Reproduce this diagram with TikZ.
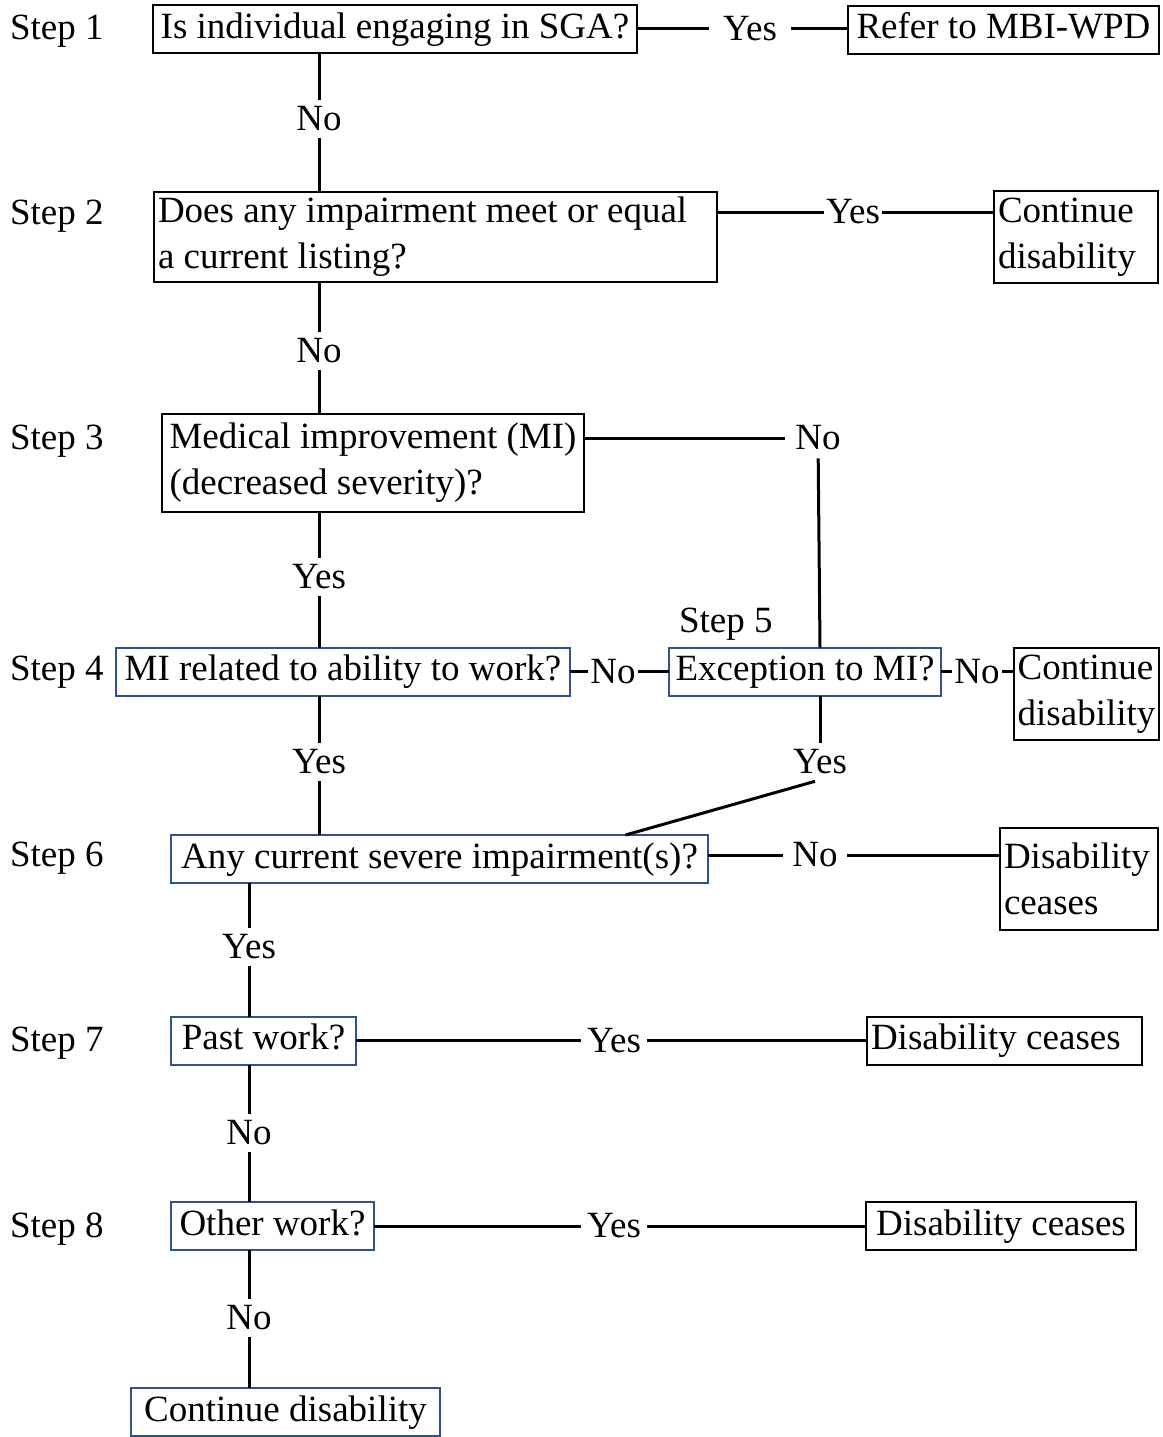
\documentclass[tikz,border=0pt]{standalone}
\usepackage{fontspec}
\setmainfont{Liberation Serif}
\usetikzlibrary{%
    positioning
}
\definecolor{boxblue}{RGB}{47,82,143}
\tikzset{
    every node/.style = {
        font=\fontsize{37}{46}\selectfont,
        outer sep=0pt,
    },
    blackbox/.style = {
        rectangle, draw=black, line width=2pt,
        inner xsep=4pt, align=flush left,
    },
    bluebox/.style = {
        blackbox, draw=boxblue,
    },
    oneline/.style = {
        inner ysep=5pt, text height=28pt, text depth=10pt,
    },
    steplabel/.style = {
        inner sep=0pt, anchor=west,
    },
    hlabel/.style = {inner xsep=2pt, inner ysep=0pt},
    vlabel/.style = {inner xsep=0pt, inner ysep=7pt},
    link/.style = {line width=3pt},
}

\begin{document}
\begin{tikzpicture}[x=1pt, y=-1pt]
    \useasboundingbox (0,0) rectangle (1162,1437);

    % step numbers down the left side
    \node[steplabel] (s1) at (10,31) {Step 1};
    \node[steplabel] (s2) at (10,216) {Step 2};
    \node[steplabel] (s3) at (10,441) {Step 3};
    \node[steplabel] (s4) at (10,672) {Step 4};
    \node[steplabel] (s6) at (10,858) {Step 6};
    \node[steplabel] (s7) at (10,1043) {Step 7};
    \node[steplabel] (s8) at (10,1229) {Step 8};

    % questions
    \node[
        blackbox, oneline,
        minimum width = 484pt
    ] (q1) at (395,29) {Is individual engaging in SGA?};
    \node[
        blackbox,
        text width = 555pt,
        minimum height = 90pt
    ] (q2) at (435.5,237) {Does any impairment meet or equal\\a current listing?};
    \node[
        blackbox,
        minimum width = 422pt,
        minimum height = 98pt
    ] (q3) at (373,463) {Medical improvement (MI)\\(decreased severity)?};
    \node[
        bluebox, oneline,
        minimum width = 454pt
    ] (q4) at (343,671.5) {MI related to ability to work?};
    \node[
        bluebox, oneline,
        minimum width = 272pt
    ] (q5) at (805,671.5) {Exception to MI?};
    \node[
        steplabel,
        above=7pt of q5.north west,
        anchor=south west,
        xshift=10pt
    ] (s5) {Step 5};
    \node[
        bluebox, oneline,
        minimum width = 537pt
    ] (q6) at (439.5,859) {Any current severe impairment(s)?};
    \node[
        bluebox, oneline,
        minimum width = 185pt
    ] (q7) at (263.5,1040.5) {Past work?};
    \node[
        bluebox, oneline,
        minimum width = 203pt
    ] (q8) at (272.5,1226) {Other work?};
    \node[
        bluebox, oneline,
        minimum width = 309pt
    ] (q9) at (285.5,1412) {Continue disability};

    % outcomes
    \node[
        blackbox, oneline,
        minimum width = 311pt
    ] (r1) at (1003.5,30) {Refer to MBI-WPD};
    \node[
        blackbox,
        text width = 156pt,
        minimum height = 92pt
    ] (r2) at (1076,237) {Continue\\disability};
    \node[
        blackbox,
        inner xsep = 2pt,
        minimum width = 145pt,
        minimum height = 92pt
    ] (r5) at (1086.5,694) {Continue\\disability};
    \node[
        blackbox,
        text width = 150pt,
        minimum height = 102pt
    ] (r6) at (1079,879) {Disability\\ceases};
    \node[
        blackbox, oneline,
        text width = 267pt
    ] (r7) at (1004.5,1040.5) {Disability ceases};
    \node[
        blackbox, oneline,
        minimum width = 270pt
    ] (r8) at (1001,1226) {Disability ceases};

    % answers
    \node[hlabel, inner xsep=14pt] (yes1) at (750,29) {Yes};
    \node[vlabel] (no1) at (319,119) {No};
    \node[hlabel] (yes2) at (853,212) {Yes};
    \node[vlabel] (no2) at (319,351) {No};
    \node[hlabel, inner xsep=10pt, inner ysep=8pt] (no3) at (818,438) {No};
    \node[vlabel] (yes3) at (319,577) {Yes};
    \node[hlabel] (no4) at (613,671.5) {No};
    \node[hlabel] (no5) at (977,671.5) {No};
    \node[vlabel] (yes4) at (319,762) {Yes};
    \node[vlabel] (yes5) at (820,762) {Yes};
    \node[hlabel, inner xsep=9pt] (no6) at (815,855) {No};
    \node[vlabel] (yes6) at (249,947) {Yes};
    \node[hlabel, inner xsep=6pt] (yes7) at (614,1040.5) {Yes};
    \node[vlabel] (no7) at (249,1133) {No};
    \node[hlabel, inner xsep=6pt] (yes8) at (614,1226) {Yes};
    \node[vlabel] (no8) at (249,1318) {No};

    % connectors
    \draw[link] (q1.east) -- (yes1) -- (r1.west |- yes1);
    \draw[link] (q1.south -| no1) -- (no1) -- (no1 |- q2.north);
    \draw[link] (q2.east |- yes2) -- (yes2) -- (r2.west |- yes2);
    \draw[link] (q2.south -| no2) -- (no2) -- (no2 |- q3.north);
    \draw[link] (q3.east |- no3) -- (no3);
    \draw[link] (no3) -- ([xshift=15pt]q5.north);
    \draw[link] (q3.south -| yes3) -- (yes3) -- (yes3 |- q4.north);
    \draw[link] (q4.east) -- (no4) -- (q5.west);
    \draw[link] (q5.east) -- (no5) -- (r5.west |- no5);
    \draw[link] (q4.south -| yes4) -- (yes4) -- (yes4 |- q6.north);
    \draw[link] (q5.south -| yes5) -- (yes5);
    \draw[link] ([xshift=-5pt]yes5.south) -- ([xshift=186pt]q6.north);
    \draw[link] (q6.east |- no6) -- (no6) -- (r6.west |- no6);
    \draw[link] (q6.south -| yes6) -- (yes6) -- (yes6 |- q7.north);
    \draw[link] (q7.east) -- (yes7) -- (r7.west);
    \draw[link] (q7.south -| no7) -- (no7) -- (no7 |- q8.north);
    \draw[link] (q8.east) -- (yes8) -- (r8.west);
    \draw[link] (q8.south -| no8) -- (no8) -- (no8 |- q9.north);
\end{tikzpicture}
\end{document}
